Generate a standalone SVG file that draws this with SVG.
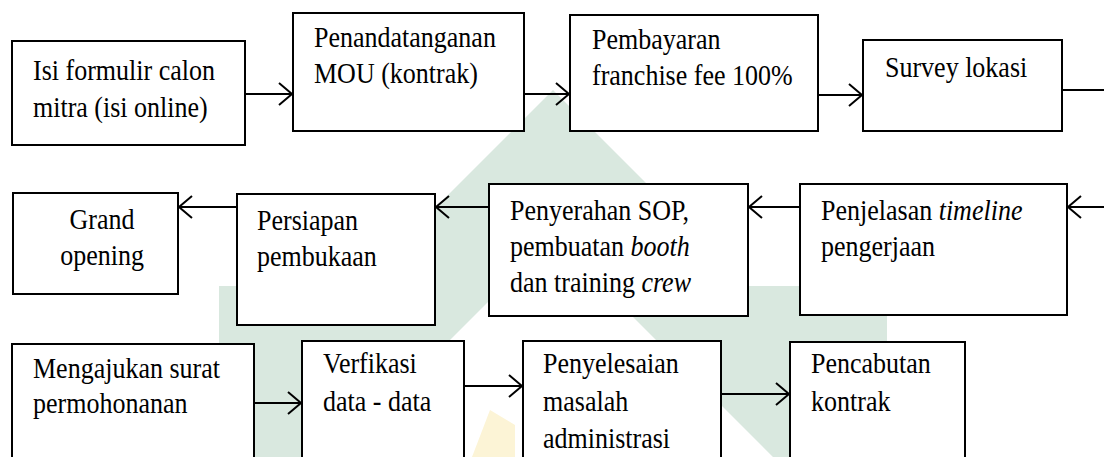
<svg xmlns="http://www.w3.org/2000/svg" width="1104" height="457" viewBox="0 0 1104 457">
  <defs>
    <style>
      .box { fill: #ffffff; stroke: #000000; stroke-width: 2; }
      .lbl { font-family: "Liberation Serif", "Times New Roman", serif; font-size: 26px; fill: #000000; }
      .it { font-style: italic; }
      .conn { fill: none; stroke: #000000; stroke-width: 2; }
      .wm-g { fill: #d9e8df; }
      .wm-y { fill: #fcf4d6; }
    </style>
    <marker id="arrow" markerUnits="userSpaceOnUse" markerWidth="20" markerHeight="28" viewBox="-16 -14 20 28" refX="0" refY="0" orient="auto">
      <path d="M -13 -11 L 0 0 L -13 11" fill="none" stroke="#000000" stroke-width="2"/>
    </marker>
  </defs>

  <rect width="1104" height="457" fill="#ffffff"/>

  <!-- faint background emblem -->
  <g id="emblem">
    <polygon class="wm-g" points="553,90 749,286 887,286 887,457 773,457 553,237 333,457 219,457 219,286 357,286"/>
    <polygon class="wm-y" points="490,410 515,425 515,457 472,457"/>
  </g>

  <!-- connectors -->
  <g id="connectors">
    <line class="conn" x1="245" y1="94" x2="292" y2="94" marker-end="url(#arrow)"/>
    <line class="conn" x1="524" y1="94" x2="569" y2="94" marker-end="url(#arrow)"/>
    <line class="conn" x1="818" y1="95" x2="862" y2="95" marker-end="url(#arrow)"/>
    <line class="conn" x1="1062" y1="90" x2="1104" y2="90"/>
    <line class="conn" x1="1104" y1="207" x2="1068" y2="207" marker-end="url(#arrow)"/>
    <line class="conn" x1="800" y1="207" x2="749" y2="207" marker-end="url(#arrow)"/>
    <line class="conn" x1="489" y1="207" x2="436" y2="207" marker-end="url(#arrow)"/>
    <line class="conn" x1="237" y1="207" x2="179" y2="207" marker-end="url(#arrow)"/>
    <line class="conn" x1="254" y1="403" x2="301" y2="403" marker-end="url(#arrow)"/>
    <line class="conn" x1="464" y1="386" x2="522" y2="386" marker-end="url(#arrow)"/>
    <line class="conn" x1="721" y1="394" x2="789" y2="394" marker-end="url(#arrow)"/>
  </g>

  <!-- row 1 -->
  <g id="isi-formulir">
    <rect class="box" x="12" y="41" width="233" height="104"/>
    <text class="lbl" transform="translate(33 80) scale(1 1.1)">Isi formulir calon</text>
    <text class="lbl" transform="translate(33 117) scale(1 1.1)">mitra (isi online)</text>
  </g>
  <g id="penandatanganan">
    <rect class="box" x="293" y="13" width="231" height="118"/>
    <text class="lbl" transform="translate(314 47) scale(1 1.1)">Penandatanganan</text>
    <text class="lbl" transform="translate(314 83) scale(1 1.1)">MOU (kontrak)</text>
  </g>
  <g id="pembayaran">
    <rect class="box" x="570" y="15" width="248" height="116"/>
    <text class="lbl" transform="translate(592 49) scale(1 1.1)">Pembayaran</text>
    <text class="lbl" transform="translate(592 85) scale(1 1.1)">franchise fee 100%</text>
  </g>
  <g id="survey-lokasi">
    <rect class="box" x="863" y="40" width="199" height="91"/>
    <text class="lbl" transform="translate(885 77) scale(1 1.1)">Survey lokasi</text>
  </g>

  <!-- row 2 -->
  <g id="grand-opening">
    <rect class="box" x="13" y="193" width="165" height="101"/>
    <text class="lbl" text-anchor="middle" transform="translate(102 229) scale(1 1.1)">Grand</text>
    <text class="lbl" text-anchor="middle" transform="translate(102 265) scale(1 1.1)">opening</text>
  </g>
  <g id="persiapan">
    <rect class="box" x="237" y="194" width="198" height="131"/>
    <text class="lbl" transform="translate(257 230) scale(1 1.1)">Persiapan</text>
    <text class="lbl" transform="translate(257 266) scale(1 1.1)">pembukaan</text>
  </g>
  <g id="penyerahan">
    <rect class="box" x="489" y="184" width="259" height="132"/>
    <text class="lbl" transform="translate(510 220) scale(1 1.1)">Penyerahan SOP,</text>
    <text class="lbl" transform="translate(510 256) scale(1 1.1)">pembuatan <tspan class="it">booth</tspan></text>
    <text class="lbl" transform="translate(510 292) scale(1 1.1)">dan training <tspan class="it">crew</tspan></text>
  </g>
  <g id="penjelasan">
    <rect class="box" x="800" y="184" width="267" height="131"/>
    <text class="lbl" transform="translate(821 220) scale(1 1.1)">Penjelasan <tspan class="it">timeline</tspan></text>
    <text class="lbl" transform="translate(821 256) scale(1 1.1)">pengerjaan</text>
  </g>

  <!-- row 3 -->
  <g id="mengajukan">
    <rect class="box" x="12" y="344" width="242" height="130"/>
    <text class="lbl" transform="translate(33 378) scale(1 1.1)">Mengajukan surat</text>
    <text class="lbl" transform="translate(33 413) scale(1 1.1)">permohonanan</text>
  </g>
  <g id="verifikasi">
    <rect class="box" x="302" y="341" width="162" height="130"/>
    <text class="lbl" transform="translate(323 373) scale(1 1.1)">Verfikasi</text>
    <text class="lbl" transform="translate(323 411) scale(1 1.1)">data - data</text>
  </g>
  <g id="penyelesaian">
    <rect class="box" x="523" y="341" width="198" height="130"/>
    <text class="lbl" transform="translate(543 373) scale(1 1.1)">Penyelesaian</text>
    <text class="lbl" transform="translate(543 411) scale(1 1.1)">masalah</text>
    <text class="lbl" transform="translate(543 448) scale(1 1.1)">administrasi</text>
  </g>
  <g id="pencabutan">
    <rect class="box" x="790" y="342" width="175" height="130"/>
    <text class="lbl" transform="translate(811 373) scale(1 1.1)">Pencabutan</text>
    <text class="lbl" transform="translate(811 411) scale(1 1.1)">kontrak</text>
  </g>
</svg>
